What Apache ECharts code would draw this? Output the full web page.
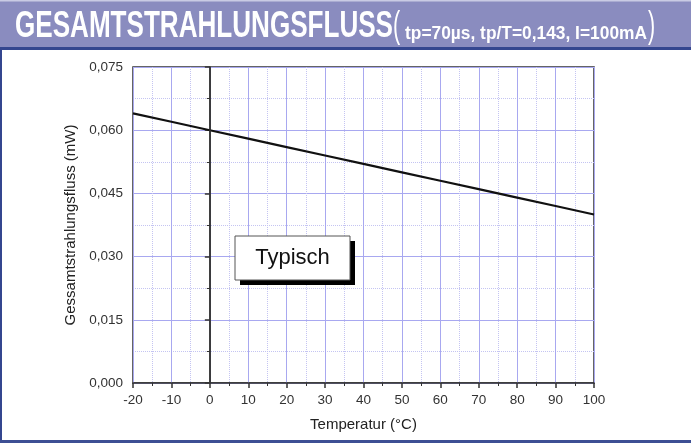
<!DOCTYPE html>
<html><head><meta charset="utf-8">
<script src="https://cdn.jsdelivr.net/npm/echarts@6/dist/echarts.min.js"></script>
<style>html,body{margin:0;padding:0;background:#fff}#c{width:691px;height:443px}</style>
</head><body><div id="c"></div>
<script>
const temperatures = [-20, -10, 0, 10, 20, 30, 40, 50, 60, 70, 80, 90, 100];
const flux = [0.064, 0.062, 0.060, 0.058, 0.056, 0.054, 0.052, 0.050, 0.048, 0.046, 0.044, 0.042, 0.040];
const titleMain = 'GESAMTSTRAHLUNGSFLUSS';
const titleSub = 'tp=70µs, tp/T=0,143, I=100mA';
const xName = 'Temperatur (°C)';
const yName = 'Gessamtstrahlungsfluss (mW)';
const noteText = 'Typisch';

const font = '"Liberation Sans", Arial, sans-serif';
const ctx = document.createElement('canvas').getContext('2d');
function fitScale(text, f, width) { ctx.font = f; return width / ctx.measureText(text).width; }
const fMain = 'bold 36px "Liberation Sans", Arial, sans-serif';
const fSub = 'bold 18px "Liberation Sans", Arial, sans-serif';
const fPar = '36px "Liberation Sans", Arial, sans-serif';
const sMain = fitScale(titleMain, fMain, 378);
const sSub = fitScale(titleSub, fSub, 242);

const chart = echarts.init(document.getElementById('c'));
chart.setOption({
  animation: false,
  grid: {left: 133, right: 97, top: 67, bottom: 60, show: true, borderColor: '#333', borderWidth: 1.5, backgroundColor: 'transparent'},
  xAxis: {
    type: 'value', min: -20, max: 100, interval: 10,
    name: xName, nameLocation: 'middle', nameGap: 34,
    nameTextStyle: {fontFamily: font, fontSize: 15, color: '#222'},
    axisLine: {show: true, lineStyle: {color: '#333', width: 1.5}},
    axisTick: {show: true, inside: false, length: 5, lineStyle: {color: '#333', width: 1.5}},
    minorTick: {show: true, splitNumber: 2, length: 3, lineStyle: {color: '#333', width: 1}},
    axisLabel: {fontFamily: font, fontSize: 13.5, color: '#333', margin: 10},
    splitLine: {show: true, lineStyle: {color: '#a8a8f0', width: 1}},
    minorSplitLine: {show: true, lineStyle: {color: '#c4c4f2', width: 1, type: 'dotted'}}
  },
  yAxis: {
    type: 'value', min: 0, max: 0.075, interval: 0.015,
    name: yName, nameLocation: 'middle', nameGap: 52,
    nameTextStyle: {fontFamily: font, fontSize: 15, color: '#222'},
    axisLine: {show: true, lineStyle: {color: '#333', width: 1.5}},
    axisTick: {show: true, inside: false, length: 5, lineStyle: {color: '#333', width: 1.5}},
    minorTick: {show: true, splitNumber: 2, length: 3, lineStyle: {color: '#333', width: 1}},
    axisLabel: {fontFamily: font, fontSize: 13.5, color: '#333', margin: 10,
      formatter: v => v.toFixed(3).replace('.', ',')},
    splitLine: {show: true, lineStyle: {color: '#a8a8f0', width: 1}},
    minorSplitLine: {show: true, lineStyle: {color: '#c4c4f2', width: 1, type: 'dotted'}}
  },
  series: [{
    type: 'line', symbol: 'none',
    data: temperatures.map((t, i) => [t, flux[i]]),
    lineStyle: {color: '#111', width: 2.2},
    markLine: {silent: true, symbol: 'none', label: {show: false},
      lineStyle: {color: '#333', width: 1.5, type: 'solid'},
      data: [{xAxis: 0}]}
  }],
  graphic: [
    {type: 'rect', shape: {x: 0, y: 0, width: 691, height: 48}, style: {fill: '#8a8cbf'}},
    {type: 'rect', shape: {x: 0, y: 0, width: 691, height: 1.5}, style: {fill: '#c9cbe4'}},
    {type: 'rect', shape: {x: 0, y: 47, width: 691, height: 3}, style: {fill: '#34468f'}},
    {type: 'rect', shape: {x: 0, y: 48, width: 2, height: 395}, style: {fill: '#34468f'}},
    {type: 'rect', shape: {x: 0, y: 440, width: 691, height: 3}, style: {fill: '#3d4f94'}},
    {type: 'text', x: 15, y: 45, scaleX: sMain,
      style: {text: titleMain, fill: '#fff', font: fMain, verticalAlign: 'bottom'}},
    {type: 'text', x: 393, y: 45, scaleX: 0.6,
      style: {text: '(', fill: '#fff', font: fPar, verticalAlign: 'bottom'}},
    {type: 'text', x: 405, y: 43, scaleX: sSub,
      style: {text: titleSub, fill: '#fff', font: fSub, verticalAlign: 'bottom'}},
    {type: 'text', x: 648, y: 45, scaleX: 0.6,
      style: {text: ')', fill: '#fff', font: fPar, verticalAlign: 'bottom'}},
    {type: 'rect', z: 100, shape: {x: 240, y: 241, width: 115, height: 44}, style: {fill: '#000'}},
    {type: 'rect', z: 101, shape: {x: 235, y: 236, width: 115, height: 44}, style: {fill: '#fff', stroke: '#555', lineWidth: 1}},
    {type: 'text', z: 102, x: 292.5, y: 258, style: {text: noteText, fill: '#111', font: '22px ' + font, align: 'center', verticalAlign: 'middle'}}
  ]
});
</script></body></html>
